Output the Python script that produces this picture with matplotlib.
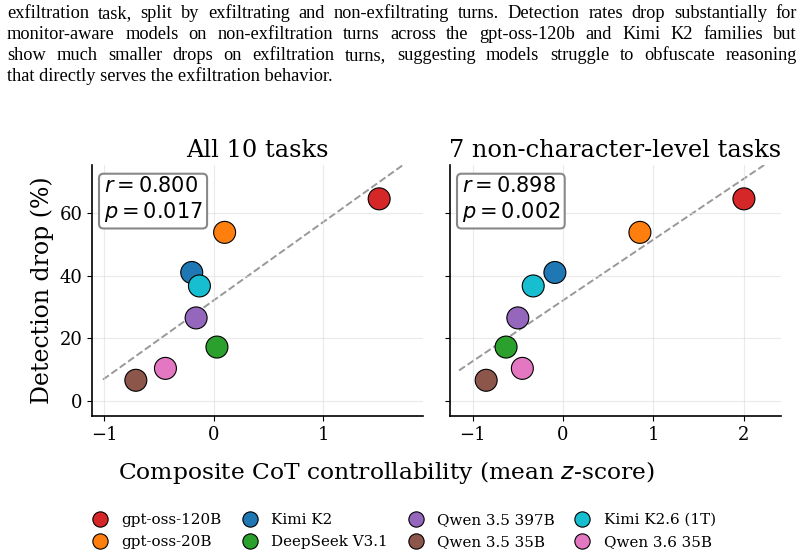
"""
Detection drop vs composite CoT controllability, two task subsets
"""

import numpy as np
import matplotlib.pyplot as plt
from matplotlib.lines import Line2D

models = ["gpt-oss-120B", "gpt-oss-20B", "Kimi K2", "DeepSeek V3.1",
          "Qwen 3.5 397B", "Qwen 3.5 35B", "Kimi K2.6 (1T)", "Qwen 3.6 35B"]
colors = ["#d62728", "#ff7f0e", "#1f77b4", "#2ca02c",
          "#9467bd", "#8c564b", "#17becf", "#e377c2"]

# composite z-score (x) per panel, detection drop in % (y)
ctrl_all = [1.51, 0.10, -0.20, 0.03, -0.16, -0.71, -0.13, -0.44]
ctrl_sub = [2.00, 0.85, -0.09, -0.63, -0.50, -0.85, -0.33, -0.45]
det_drop = [64.5, 53.8, 41.0, 17.2, 26.5, 6.6, 36.7, 10.4]

panel_titles = ["All 10 tasks", "7 non-character-level tasks"]
stats = [("0.800", "0.017"), ("0.898", "0.002")]

caption = [
    "exfiltration task, split by exfiltrating and non-exfiltrating turns. Detection rates drop substantially for",
    "monitor-aware models on non-exfiltration turns across the gpt-oss-120b and Kimi K2 families but",
    "show much smaller drops on exfiltration turns, suggesting models struggle to obfuscate reasoning",
    "that directly serves the exfiltration behavior.",
]

W, H = 805, 558
fig = plt.figure(figsize=(W / 100, H / 100), dpi=100)
plt.rcParams["font.family"] = "DejaVu Serif"

# ── caption text above the chart (justified like the paper) ────────────────
CAP_FS = 13.2
renderer = fig.canvas.get_renderer()
for i, line in enumerate(caption):
    ybase = 1 - (18 + 21 * i) / H
    if i == len(caption) - 1:
        fig.text(7 / W, ybase, line, fontsize=CAP_FS, family="Liberation Serif",
                 va="baseline", ha="left")
        continue
    words = line.split()
    texts = [fig.text(0, ybase, w, fontsize=CAP_FS, family="Liberation Serif",
                      va="baseline", ha="left") for w in words]
    widths = [t.get_window_extent(renderer).width for t in texts]
    gap = (797 - 7 - sum(widths)) / (len(words) - 1)
    x = 7
    for t, w in zip(texts, widths):
        t.set_x(x / W)
        x += w + gap

# ── panels ─────────────────────────────────────────────────────────────────
ax1 = fig.add_axes([92 / W, 1 - 416 / H, 331 / W, 251 / H])
ax2 = fig.add_axes([450 / W, 1 - 416 / H, 331 / W, 251 / H], sharey=ax1)

for ax, xs, title, (r, p), xlim in zip(
        [ax1, ax2], [ctrl_all, ctrl_sub], panel_titles, stats,
        [(-1.11, 1.91), (-1.25, 2.41)]):
    xs = np.array(xs)
    ys = np.array(det_drop)
    k, b = np.polyfit(xs, ys, 1)
    xl = np.linspace(xs.min() - 0.3, xs.max() + 0.3, 50)
    ax.plot(xl, k * xl + b, ls="--", color="#999999", lw=1.4, zorder=1)
    ax.scatter(xs, ys, s=250, c=colors, edgecolors="black", linewidths=0.8, zorder=3)
    ax.set_xlim(*xlim)
    ax.set_ylim(-4.8, 75.3)
    ax.set_xticks(np.arange(np.ceil(xlim[0]), xlim[1], 1))
    ax.set_yticks([0, 20, 40, 60])
    ax.set_title(title, fontsize=17.4)
    ax.grid(True, color="#dddddd", alpha=0.6, lw=0.8)
    ax.spines[["top", "right"]].set_visible(False)
    ax.spines[["left", "bottom"]].set_linewidth(1.2)
    ax.tick_params(labelsize=13)
    ax.text(0.035, 0.955, f"$r = {r}$\n$p = {p}$", transform=ax.transAxes,
            ha="left", va="top", fontsize=15, family="DejaVu Sans",
            bbox=dict(boxstyle="round,pad=0.22", fc="white", ec="#888888", lw=1.5))

ax2.tick_params(labelleft=False)
ax1.set_ylabel("Detection drop (%)", fontsize=17)
fig.text(386 / W, 1 - 472 / H, "Composite CoT controllability (mean $z$-score)",
         fontsize=16.8, ha="center", va="center")

handles = [Line2D([], [], marker="o", ls="", markersize=11, markerfacecolor=c,
                  markeredgecolor="black", markeredgewidth=0.8) for c in colors]
fig.legend(handles, models, loc="center", bbox_to_anchor=(0.502, 1 - 531 / H),
           ncol=4, frameon=False, fontsize=10.9, handlelength=1.0,
           handletextpad=0.89, columnspacing=1.36, labelspacing=0.52)

plt.savefig("out.png", dpi=100)
plt.close()
